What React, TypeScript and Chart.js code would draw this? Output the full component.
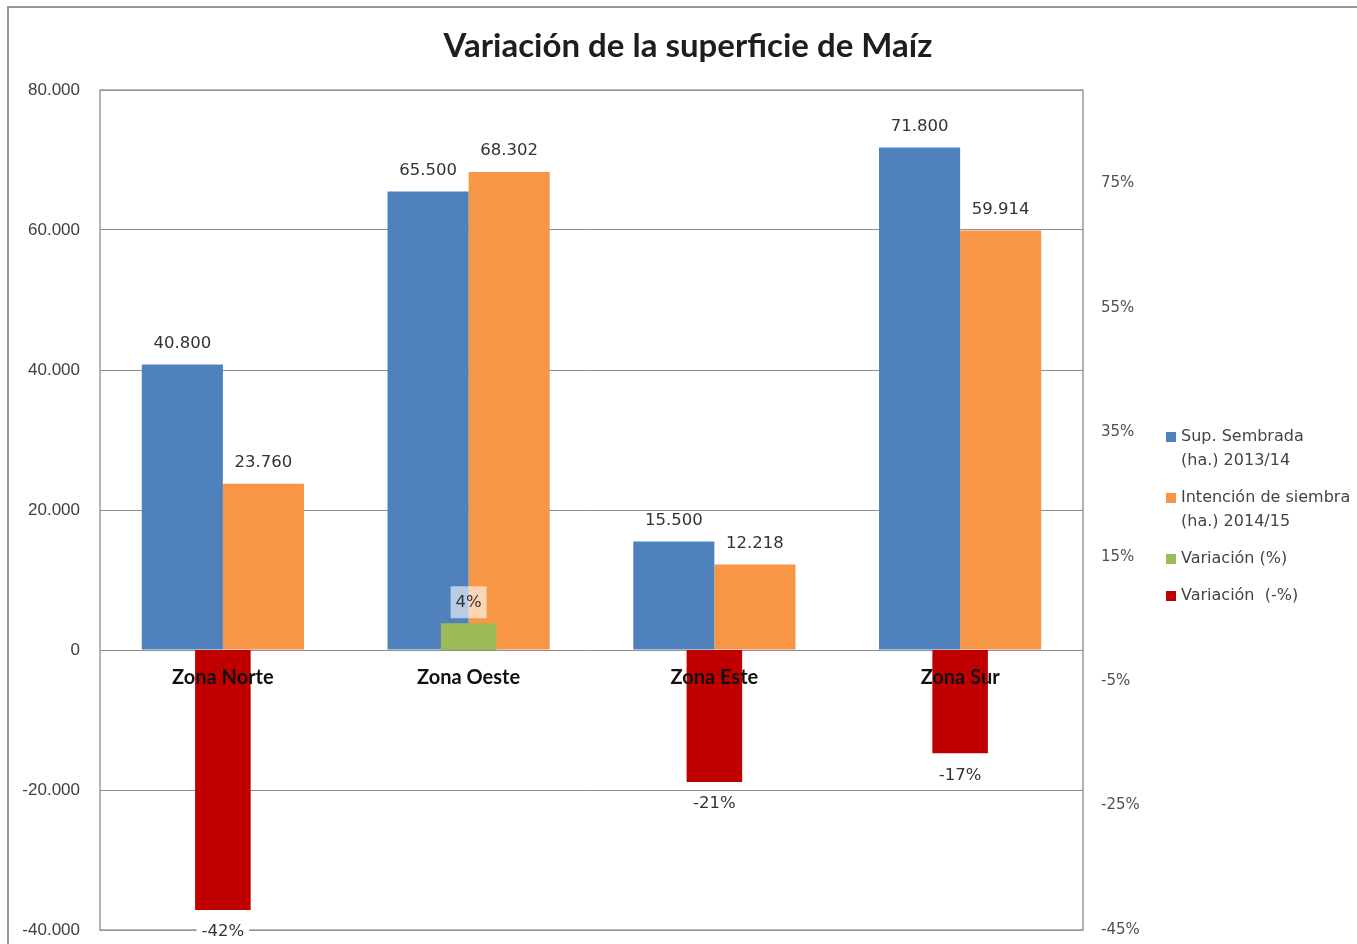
import React, { useEffect, useRef } from "react";
import { Chart, registerables } from "chart.js";

Chart.register(...registerables);

const TITLE = "Variación de la superficie de Maíz";
const CATEGORIES = ["Zona Norte", "Zona Oeste", "Zona Este", "Zona Sur"];
const SUP_2013 = [40800, 65500, 15500, 71800];
const INT_2014 = [23760, 68302, 12218, 59914];
const VAR_POS = [null, 4.3, null, null];
const VAR_NEG = [-41.8, null, -21.2, -16.6];
const SERIES_LABELS = [
  "Sup. Sembrada\n(ha.) 2013/14",
  "Intención de siembra\n(ha.) 2014/15",
  "Variación (%)",
  "Variación  (-%)",
];
const LEFT_TICKS = [-40000, -20000, 0, 20000, 40000, 60000, 80000];
const RIGHT_TICKS = [-45, -25, -5, 15, 35, 55, 75];
const COLORS = ["#4f81bd", "#f79646", "#9bbb59", "#c00000"];

const fmtNum = (v: number) => v.toLocaleString("de-DE");
const fmtPct = (v: number) => Math.round(v) + "%";

const decorPlugin = {
  id: "decor",
  beforeDraw(chart: any) {
    const ctx = chart.ctx;
    ctx.save();
    ctx.fillStyle = "#ffffff";
    ctx.fillRect(0, 0, chart.width, chart.height);
    ctx.strokeStyle = "#9a9a9a";
    ctx.lineWidth = 2;
    ctx.strokeRect(8, 7, 1400, 1000);
    ctx.fillStyle = "#1e1e1e";
    ctx.font = "bold 33px Lato";
    ctx.textAlign = "center";
    ctx.textBaseline = "middle";
    ctx.fillText(TITLE, 688, 46);
    ctx.restore();
  },
  beforeDatasetsDraw(chart: any) {
    const { ctx, chartArea } = chart;
    ctx.save();
    ctx.strokeStyle = "#9a9a9a";
    ctx.lineWidth = 1.5;
    ctx.strokeRect(chartArea.left, chartArea.top, chartArea.right - chartArea.left, chartArea.bottom - chartArea.top);
    ctx.restore();
  },
  afterDatasetsDraw(chart: any) {
    const ctx = chart.ctx;
    const x = chart.scales.x;
    const y = chart.scales.y;
    ctx.save();
    // category labels at the zero line
    ctx.fillStyle = "#111";
    ctx.font = "bold 20px Lato";
    ctx.textAlign = "center";
    ctx.textBaseline = "middle";
    const zeroY = y.getPixelForValue(0);
    CATEGORIES.forEach((c, i) => {
      ctx.fillText(c, x.getPixelForValue(i), zeroY + 28);
    });
    // data labels
    ctx.font = "16.5px 'DejaVu Sans'";
    chart.data.datasets.forEach((ds: any, di: number) => {
      const meta = chart.getDatasetMeta(di);
      meta.data.forEach((el: any, i: number) => {
        const v = ds.data[i];
        if (v === null || v === undefined) return;
        if (di < 2) {
          ctx.fillStyle = "#333";
          ctx.fillText(fmtNum(v), el.x, el.y - 21);
        } else {
          const txt = fmtPct(v);
          const ty = v < 0 ? el.y + 22 : el.y - 21;
          const w = ctx.measureText(txt).width + 10;
          ctx.fillStyle = v < 0 ? "#ffffff" : "rgba(255,255,255,0.6)";
          if (v < 0) ctx.fillRect(el.x - w / 2, ty - 12, w, 24);
          else ctx.fillRect(el.x - 18, ty - 16, 36, 32);
          ctx.fillStyle = "#333";
          ctx.fillText(txt, el.x, ty);
        }
      });
    });
    // legend
    ctx.textAlign = "left";
    ctx.font = "16px 'DejaVu Sans'";
    let ly = 437;
    SERIES_LABELS.forEach((lab, i) => {
      const lines = lab.split("\n");
      ctx.fillStyle = COLORS[i];
      ctx.fillRect(1166, ly - 5, 10, 10);
      ctx.fillStyle = "#444";
      lines.forEach((ln, k) => {
        ctx.fillText(ln, 1181, ly + k * 24);
      });
      ly += (lines.length - 1) * 24 + 37;
    });
    ctx.restore();
  },
};

export default function App() {
  const ref = useRef<HTMLCanvasElement | null>(null);
  useEffect(() => {
    if (!ref.current) return;
    const chart = new Chart(ref.current, {
      type: "bar",
      data: {
        labels: CATEGORIES,
        datasets: [
          { label: SERIES_LABELS[0], data: SUP_2013, backgroundColor: COLORS[0], yAxisID: "y", order: 2, categoryPercentage: 0.66, barPercentage: 1 },
          { label: SERIES_LABELS[1], data: INT_2014, backgroundColor: COLORS[1], yAxisID: "y", order: 2, categoryPercentage: 0.66, barPercentage: 1 },
          { label: SERIES_LABELS[2], data: VAR_POS, backgroundColor: COLORS[2], yAxisID: "y2", order: 1, grouped: false, categoryPercentage: 1, barPercentage: 0.226 },
          { label: SERIES_LABELS[3], data: VAR_NEG, backgroundColor: COLORS[3], yAxisID: "y2", order: 1, grouped: false, categoryPercentage: 1, barPercentage: 0.226 },
        ] as any,
      },
      options: {
        animation: false,
        responsive: false,
        maintainAspectRatio: false,
        devicePixelRatio: 1,
        layout: { padding: { top: 90, bottom: 14, left: 0, right: 0 } },
        plugins: { legend: { display: false }, title: { display: false }, tooltip: { enabled: false } },
        scales: {
          x: { type: "category", display: false, offset: true, grid: { display: false } },
          y: {
            position: "left",
            min: -40000,
            max: 80000,
            afterBuildTicks: (s: any) => { s.ticks = LEFT_TICKS.map((v) => ({ value: v })); },
            afterFit: (s: any) => { s.width = 100; },
            grid: { color: "#8f8f8f", lineWidth: 1, drawTicks: true, tickLength: 20, tickColor: "rgba(0,0,0,0)" },
            border: { display: false },
            ticks: { padding: 0, color: "#404040", font: { family: "Liberation Sans", size: 17 }, callback: (v: any) => fmtNum(Number(v)) },
          },
          y2: {
            position: "right",
            min: -45,
            max: 90,
            afterBuildTicks: (s: any) => { s.ticks = RIGHT_TICKS.map((v) => ({ value: v })); },
            afterFit: (s: any) => { s.width = 274; },
            grid: { display: false, drawTicks: true, tickLength: 18 },
            border: { display: false },
            ticks: { padding: 0, color: "#505050", font: { family: "DejaVu Sans", size: 15 }, callback: (v: any) => v + "%" },
          },
        },
      } as any,
      plugins: [decorPlugin],
    });
    return () => chart.destroy();
  }, []);
  return (
    <div style={{ position: "fixed", left: 0, top: 0, width: 1357, height: 944, background: "#fff" }}>
      <canvas ref={ref} width={1357} height={944} style={{ display: "block", width: 1357, height: 944 }} />
    </div>
  );
}
